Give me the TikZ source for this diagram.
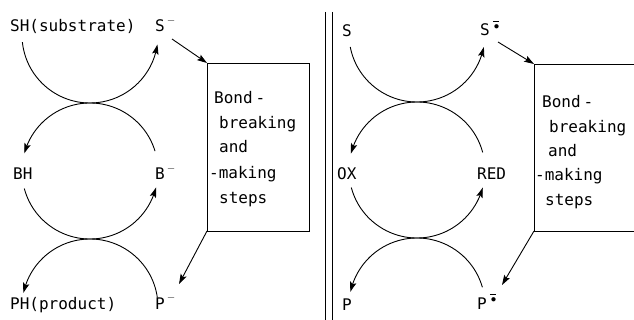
\documentclass[tikz,border=0pt]{standalone}
\usepackage{fontspec}
\newfontfamily\labfont{DejaVu Sans Mono}
\usetikzlibrary{arrows.meta,bending}
\newcommand{\radsup}{\kern3pt\rlap{\raisebox{14.5pt}{\rule{6.5pt}{0.9pt}}}\kern1pt\raisebox{6.5pt}{$\scriptstyle\bullet$}\kern1pt}
\newcommand{\minsup}{\kern2pt\raisebox{2pt}{$^{-}$}}
\begin{document}
\begin{tikzpicture}[x=1pt,y=-1pt,
  lab/.style={font=\labfont\fontsize{16}{16}\selectfont, inner sep=0pt, anchor=base west},
  line/.style={line width=0.9pt},
  arr/.style={line width=0.9pt, -{Stealth[length=10pt,width=6.5pt,inset=2pt,bend]}},
  sarr/.style={line width=0.9pt, -{Stealth[length=10pt,width=6.5pt,inset=2pt]}}]
\useasboundingbox (0,0) rectangle (634,320);
% ---------- left panel ----------
\coordinate (c1) at (90,35);
\coordinate (c2) at (90,171);
\coordinate (c3) at (90,307);
\node[lab] (SH) at (10,32) {SH(substrate)};
\node[lab] (Sm) at (155,32) {S\minsup};
\node[lab] (BH) at (13,180) {BH};
\node[lab] (Bm) at (155,180) {B\minsup};
\node[lab] (PH) at (10,309) {PH(product)};
\node[lab] (Pm) at (155,309) {P\minsup};
\draw[arr] (c1) ++(174:68) arc[start angle=174, end angle=8, radius=68];
\draw[arr] (c2) ++(-17:68) arc[start angle=-17, end angle=-165, radius=68];
\draw[arr] (c2) ++(165:68) arc[start angle=165, end angle=14, radius=68];
\draw[arr] (c3) ++(-8:68) arc[start angle=-8, end angle=-168, radius=68];
\coordinate (lnw) at (207,63);
\coordinate (lse) at (309,231);
\coordinate (lsw) at (207,231);
\draw[line] (lnw) rectangle (lse);
\coordinate (la1) at (172,39);
\coordinate (la2) at (179,284);
\draw[sarr] (la1) -- (lnw);
\draw[sarr] (lsw) -- (la2);
\node[lab] (lt1) at (214,104) {Bond\kern3pt-};
\node[lab] (lt2) at (219,129) {breaking};
\node[lab] (lt3) at (219,153) {and};
\node[lab] (lt4) at (209,179) {-making};
\node[lab] (lt5) at (219,204) {steps};
% ---------- divider ----------
\coordinate (d1t) at (325,12); \coordinate (d1b) at (325,320);
\coordinate (d2t) at (332,12); \coordinate (d2b) at (332,320);
\draw[line] (d1t) -- (d1b);
\draw[line] (d2t) -- (d2b);
% ---------- right panel ----------
\coordinate (c4) at (417,34);
\coordinate (c5) at (417,170);
\coordinate (c6) at (417,306);
\node[lab] (S) at (342,37) {S};
\node[lab] (Sr) at (480,36) {S\radsup};
\node[lab] (OX) at (337,180) {OX};
\node[lab] (RED) at (477,180) {RED};
\node[lab] (P) at (342,310) {P};
\node[lab] (Pr) at (477,309) {P\radsup};
\draw[arr] (c4) ++(169:68) arc[start angle=169, end angle=11, radius=68];
\draw[arr] (c5) ++(-15:68) arc[start angle=-15, end angle=-166, radius=68];
\draw[arr] (c5) ++(165:68) arc[start angle=165, end angle=15, radius=68];
\draw[arr] (c6) ++(-16:68) arc[start angle=-16, end angle=-168, radius=68];
\coordinate (rnw) at (534,64);
\coordinate (rne) at (634,64);
\coordinate (rsw) at (534,231);
\coordinate (rse) at (634,231);
\draw[line] (rne) -- (rnw) -- (rsw) -- (rse);
\coordinate (ra1) at (498,42);
\coordinate (ra2) at (502,285);
\draw[sarr] (ra1) -- (rnw);
\draw[sarr] (rsw) -- (ra2);
\node[lab] (rt1) at (542,108) {Bond\kern3pt-};
\node[lab] (rt2) at (549,133) {breaking};
\node[lab] (rt3) at (548,157) {and};
\node[lab] (rt4) at (535,181) {-making};
\node[lab] (rt5) at (545,206) {steps};
\end{tikzpicture}
\end{document}
